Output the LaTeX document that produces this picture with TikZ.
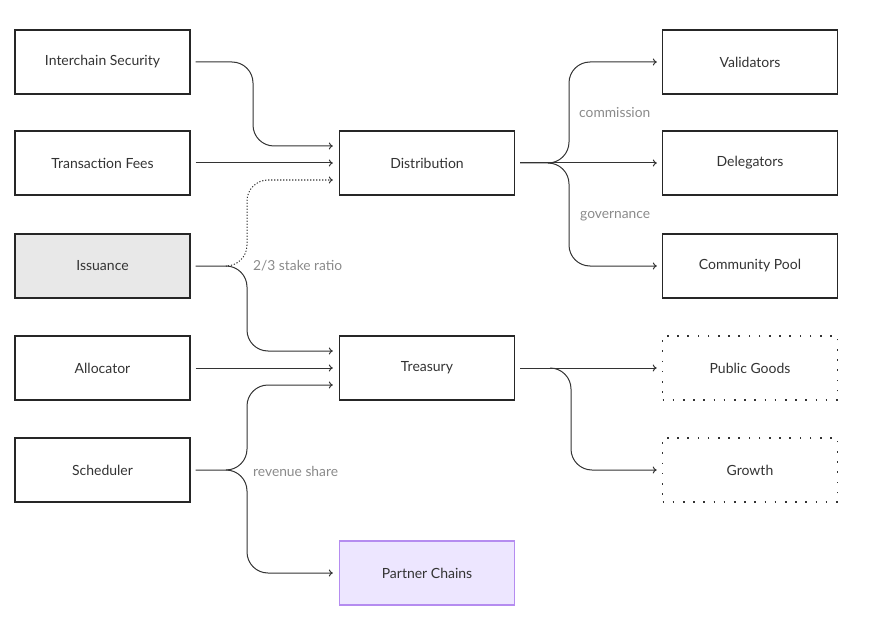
\documentclass[tikz,border=0pt]{standalone}
\usepackage{fontspec}
\setmainfont{Lato}
\usetikzlibrary{arrows.meta}
\definecolor{txt}{HTML}{333333}
\definecolor{lbl}{HTML}{8A8A8A}
\definecolor{issfill}{HTML}{E8E8E8}
\definecolor{pcfill}{HTML}{EDE6FF}
\definecolor{pcdraw}{HTML}{B58CF0}
\begin{document}
\begin{tikzpicture}[x=1pt,y=-1pt,
  box/.style={draw=black!85,line width=1.3pt,minimum width=175pt,minimum height=64pt,inner sep=0pt,font=\fontsize{14}{16}\selectfont,text=txt},
  dotbox/.style={box,draw=black!80,line width=1.6pt,dash pattern=on 1.6pt off 8.6pt},
  flow/.style={draw=black!80,line width=1pt,-{To[length=4pt,width=7pt]},rounded corners=21pt},
  dflow/.style={flow,dash pattern=on 1.2pt off 1.8pt},
  lab/.style={text=lbl,font=\fontsize{13.8}{16}\selectfont,inner sep=0pt}]
\useasboundingbox (0,0) rectangle (873,623);
% left column
\node[box] (ics) at (102.5,62) {Interchain Security};
\node[box] (tf) at (102.5,163) {Transaction Fees};
\node[box,fill=issfill] (iss) at (102.5,266) {Issuance};
\node[box] (alloc) at (102.5,368) {Allocator};
\node[box] (sched) at (102.5,470) {Scheduler};
% middle
\node[box] (dist) at (427,163) {Distribution};
\node[box] (tres) at (427,368) {Treasury};
\node[box,fill=pcfill,draw=pcdraw] (pc) at (427,573) {Partner Chains};
% right
\node[box] (val) at (750,62) {Validators};
\node[box] (del) at (750,163) {Delegators};
\node[box] (cp) at (750,266) {Community Pool};
\node[dotbox] (pg) at (750,368) {Public Goods};
\node[dotbox] (gr) at (750,470) {Growth};
% split points
\coordinate (isssplit) at (227,266);
\coordinate (schsplit) at (227,470);
\coordinate (dsplit) at (549,163);
\coordinate (tsplit) at (550,368);
% inputs to Distribution
\draw[flow] ([xshift=5pt]ics.east) -- (253,62) -- (253,146) -- ([xshift=-6pt,yshift=17pt]dist.west);
\draw[flow] ([xshift=5pt]tf.east) -- ([xshift=-6pt]dist.west);
\draw[dflow] (isssplit) -- (247,266) -- (247,180) -- ([xshift=-6pt,yshift=-17pt]dist.west);
% Issuance to Treasury
\draw[flow] ([xshift=5pt]iss.east) -- (247,266) -- (247,351) -- ([xshift=-6pt,yshift=17pt]tres.west);
\draw[flow] ([xshift=5pt]alloc.east) -- ([xshift=-6pt]tres.west);
% Scheduler
\draw[flow] ([xshift=5pt]sched.east) -- (247,470) -- (247,385) -- ([xshift=-6pt,yshift=-17pt]tres.west);
\draw[flow] (schsplit) -- (247,470) -- (247,573) -- ([xshift=-6pt]pc.west);
% Distribution outputs
\draw[flow] ([xshift=5pt]dist.east) -- (569,163) -- (569,62) -- ([xshift=-5pt]val.west);
\draw[flow] ([xshift=5pt]dist.east) -- ([xshift=-5pt]del.west);
\draw[flow] (dsplit) -- (569,163) -- (569,266) -- ([xshift=-5pt]cp.west);
% Treasury outputs
\draw[flow] ([xshift=5pt]tres.east) -- ([xshift=-5pt]pg.west);
\draw[flow] (tsplit) -- (571,368) -- (571,470) -- ([xshift=-5pt]gr.west);
% labels
\node[lab,anchor=west] (l1) at (253,266) {2/3 stake ratio};
\node[lab,anchor=west] (l2) at (253,471) {revenue share};
\node[lab,anchor=west] (l3) at (579,113) {commission};
\node[lab,anchor=west] (l4) at (580,216) {governance};
\end{tikzpicture}
\end{document}
